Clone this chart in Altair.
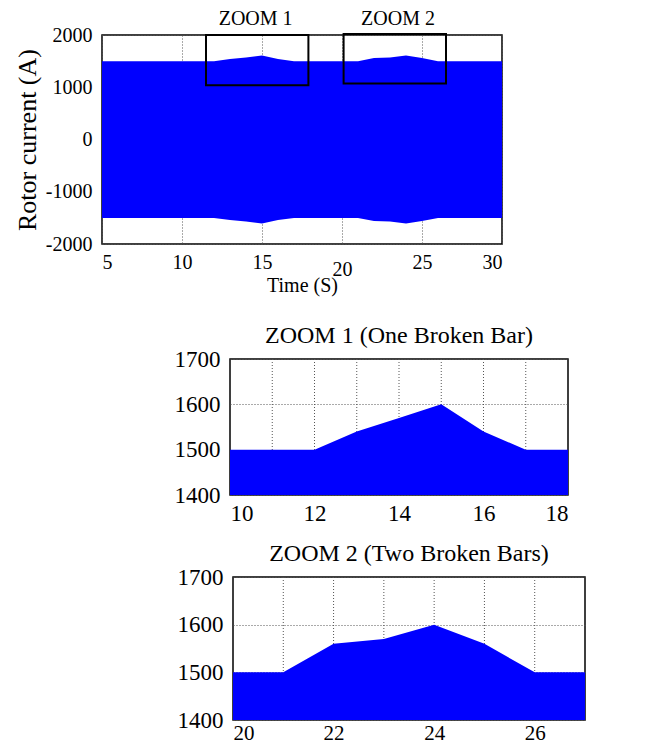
import altair as alt
import pandas as pd

FONT = "Liberation Serif"
BLUE = "#0000ff"

# ---- overview (5 - 30 s) envelope of rotor current
top_t = [5, 12, 13, 14, 15, 16, 17, 21, 22, 23, 24, 25, 26, 30]
top_upper = [1500, 1500, 1540, 1570, 1610, 1540, 1500, 1500, 1560, 1570, 1610, 1560, 1500, 1500]
top_lower = [-1500, -1500, -1540, -1570, -1610, -1540, -1500, -1500, -1560, -1570, -1610, -1560, -1500, -1500]
top_xticks = [5, 10, 15, 20, 25, 30]
top_yticks = [-2000, -1000, 0, 1000, 2000]

# zoom boxes drawn on the overview
box_names = ["ZOOM 1", "ZOOM 2"]
box_x1 = [11.5, 20.1]
box_x2 = [17.9, 26.5]
box_y1 = [1040, 1070]
box_y2 = [2000, 2020]
box_label_x = [14.6, 23.5]
box_label_y = [2300, 2300]

# ---- zoom 1 (one broken bar)
z1_t = [10, 12, 13, 14, 15, 16, 17, 18]
z1_peak = [1500, 1500, 1540, 1570, 1600, 1540, 1500, 1500]
z1_xticks = [10, 12, 14, 16, 18]
z1_grid = [11, 12, 13, 14, 15, 16, 17]

# ---- zoom 2 (two broken bars)
z2_t = [20, 21, 22, 23, 24, 25, 26, 27]
z2_peak = [1500, 1500, 1560, 1570, 1600, 1560, 1500, 1500]
z2_xticks = [20, 22, 24, 26]
z2_grid = [21, 22, 23, 24, 25, 26]

zoom_yticks = [1400, 1500, 1600, 1700]

grid_kw = dict(gridColor="#555555", gridDash=[1, 2], gridWidth=1)
PLAIN = "'' + datum.value"

# ================= overview chart =================
top_df = pd.DataFrame({"t": top_t, "up": top_upper, "lo": top_lower})
box_df = pd.DataFrame({"name": box_names, "x1": box_x1, "x2": box_x2,
                       "y1": box_y1, "y2": box_y2,
                       "lx": box_label_x, "ly": box_label_y})

xs_top = alt.Scale(domain=[5, 30], nice=False)
ys_top = alt.Scale(domain=[-2000, 2000], nice=False)

top_area = alt.Chart(top_df).mark_area(color=BLUE, opacity=1).encode(
    x=alt.X("t:Q", scale=xs_top,
            axis=alt.Axis(values=top_xticks, title="Time (S)", grid=True, ticks=False,
                          labelExpr=PLAIN, labelFontSize=20,
                          labelPadding=alt.ExprRef("datum.value == 20 ? 15 : 8"),
                          titleFontSize=20, titleFontWeight="normal",
                          titleY=31, titleBaseline="top", domain=False, **grid_kw)),
    y=alt.Y("up:Q", scale=ys_top,
            axis=alt.Axis(values=top_yticks, title="Rotor current (A)", grid=True, ticks=False,
                          labelExpr=PLAIN, labelFontSize=20, labelPadding=10,
                          titleFontSize=26, titleFontWeight="normal", titlePadding=5,
                          domain=False, **grid_kw)),
    y2="lo:Q",
)

top_boxes = alt.Chart(box_df).mark_rect(fillOpacity=0, stroke="black", strokeWidth=2).encode(
    x=alt.X("x1:Q", scale=xs_top), x2="x2:Q",
    y=alt.Y("y1:Q", scale=ys_top), y2="y2:Q",
)

top_labels = alt.Chart(box_df).mark_text(fontSize=20, font=FONT, baseline="middle").encode(
    x=alt.X("lx:Q", scale=xs_top), y=alt.Y("ly:Q", scale=ys_top), text="name:N",
)

top = alt.layer(top_area, top_boxes, top_labels).properties(width=400, height=209)


# ================= zoom charts =================
def zoom_chart(t, peak, xticks, grid, domain, title, width, height, xpad, xfont):
    df = pd.DataFrame({"t": t, "peak": peak})
    gdf = pd.DataFrame({"g": grid})
    xs = alt.Scale(domain=domain, nice=False)
    ys = alt.Scale(domain=[1400, 1700], nice=False)
    vgrid = alt.Chart(gdf).mark_rule(color="#555555", strokeDash=[1, 2], strokeWidth=1).encode(
        x=alt.X("g:Q", scale=xs,
                axis=alt.Axis(values=xticks, title=None, grid=False, ticks=False,
                              labelExpr=PLAIN, labelFontSize=xfont, labelPadding=xpad,
                              domain=False)),
    )
    area = alt.Chart(df).mark_area(color=BLUE, opacity=1).encode(
        x=alt.X("t:Q", scale=xs),
        y=alt.Y("peak:Q", scale=ys,
                axis=alt.Axis(values=zoom_yticks, title=None, grid=True, ticks=False,
                              labelExpr=PLAIN, labelFontSize=23, labelPadding=10,
                              domain=False, **grid_kw)),
        y2=alt.datum(1400),
    )
    return alt.layer(vgrid, area).properties(
        width=width, height=height,
        title=alt.TitleParams(title, fontSize=24, fontWeight="normal", font=FONT, offset=0),
    )


def spacer(w):
    return alt.Chart(pd.DataFrame({"v": [0]})).mark_point(opacity=0).encode(
        x=alt.value(0), y=alt.value(0)
    ).properties(width=w, height=10, view=alt.ViewBackground(strokeOpacity=0))


z1 = zoom_chart(z1_t, z1_peak, z1_xticks, z1_grid, [10, 18],
                "ZOOM 1 (One Broken Bar)", 338, 136, 7, 23)
z2 = zoom_chart(z2_t, z2_peak, z2_xticks, z2_grid, [20, 27],
                "ZOOM 2 (Two Broken Bars)", 352, 143, 2, 21)

row1 = alt.hconcat(spacer(71), z1, spacing=0)
row2 = alt.hconcat(spacer(74), z2, spacing=0)

chart = alt.vconcat(top, alt.vconcat(row1, row2, spacing=15), spacing=27).properties(
    padding={"left": 5, "top": 0, "right": 5, "bottom": 0}
).configure(font=FONT).configure_view(
    stroke="black", strokeWidth=1.5
).configure_axis(
    labelFont=FONT, titleFont=FONT, labelColor="black", titleColor="black"
)

chart.save("out.html", embed_options={"renderer": "svg", "actions": False})
